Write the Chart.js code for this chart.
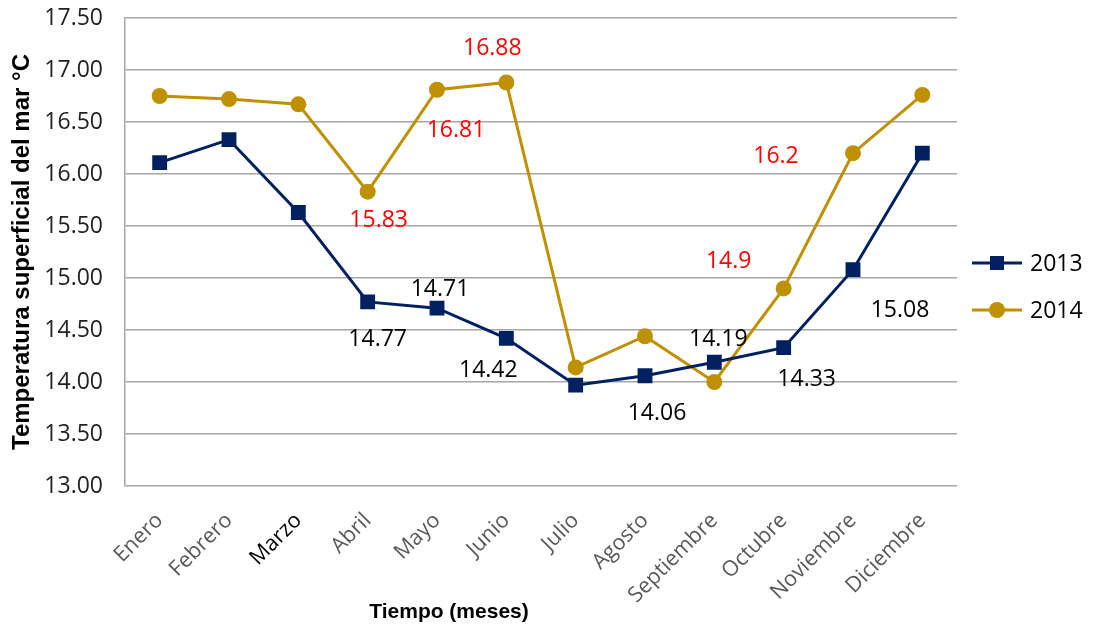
<!DOCTYPE html>
<html>
<head>
<meta charset="utf-8">
<script src="https://cdn.jsdelivr.net/npm/chart.js@4.4.1/dist/chart.umd.min.js"></script>
<style>
    html, body { margin: 0; padding: 0; background: #fff; }
    #wrap { width: 1100px; height: 627px; }
</style>
</head>
<body>
<div id="wrap"><canvas id="tempChart"></canvas></div>
<script>
// datos
const meses = ["Enero", "Febrero", "Marzo", "Abril", "Mayo", "Junio", "Julio", "Agosto", "Septiembre", "Octubre", "Noviembre", "Diciembre"];
const temp2013 = [16.11, 16.33, 15.63, 14.77, 14.71, 14.42, 13.97, 14.06, 14.19, 14.33, 15.08, 16.20];
const temp2014 = [16.75, 16.72, 16.67, 15.83, 16.81, 16.88, 14.14, 14.44, 14.00, 14.9, 16.2, 16.76];
const yMin = 13.0;
const yMax = 17.5;
const yStep = 0.5;

const AZUL = "#002060";
const DORADO = "#BF9000";

// etiquetas de datos visibles (serie, mes, desplazamiento)
const etiquetas = [
    { ds: 0, i: 3, dx: 10, dy: 38, color: "#000" },
    { ds: 0, i: 4, dx: 3, dy: -19, color: "#000" },
    { ds: 0, i: 5, dx: -18, dy: 32, color: "#000" },
    { ds: 0, i: 7, dx: 12, dy: 38, color: "#000" },
    { ds: 0, i: 8, dx: 4, dy: -23, color: "#000" },
    { ds: 0, i: 9, dx: 23, dy: 32, color: "#000" },
    { ds: 0, i: 10, dx: 47, dy: 41, color: "#000" },
    { ds: 1, i: 3, dx: 11, dy: 29, color: "#FF0000" },
    { ds: 1, i: 4, dx: 19, dy: 41, color: "#FF0000" },
    { ds: 1, i: 5, dx: -14, dy: -34, color: "#FF0000" },
    { ds: 1, i: 9, dx: -55, dy: -27, color: "#FF0000" },
    { ds: 1, i: 10, dx: -77, dy: 3, color: "#FF0000" },
];

const labelsPlugin = {
    id: "etiquetas",
    afterDatasetsDraw(chart) {
        const ctx = chart.ctx;
        ctx.save();
        ctx.font = "23px 'Open Sans'";
        ctx.textAlign = "center";
        ctx.textBaseline = "middle";
        etiquetas.forEach(e => {
            const pt = chart.getDatasetMeta(e.ds).data[e.i];
            const v = chart.data.datasets[e.ds].data[e.i];
            ctx.fillStyle = e.color;
            ctx.fillText(String(v), pt.x + e.dx, pt.y + e.dy);
        });
        ctx.restore();
    },
};

const extrasPlugin = {
    id: "extras",
    afterDraw(chart) {
        const ctx = chart.ctx;
        ctx.save();
        // titulo eje x
        ctx.font = "bold 21px 'Liberation Sans'";
        ctx.fillStyle = "#000";
        ctx.textAlign = "center";
        ctx.textBaseline = "middle";
        ctx.fillText("Tiempo (meses)", 449, 612);

        // leyenda
        const items = [
            { text: "2013", color: AZUL, shape: "rect", y: 263 },
            { text: "2014", color: DORADO, shape: "circle", y: 310 },
        ];
        items.forEach(it => {
            ctx.strokeStyle = it.color;
            ctx.lineWidth = 3;
            ctx.beginPath();
            ctx.moveTo(972, it.y);
            ctx.lineTo(1022, it.y);
            ctx.stroke();
            ctx.fillStyle = it.color;
            if (it.shape === "rect") {
                ctx.fillRect(990, it.y - 7, 14, 14);
            } else {
                ctx.beginPath();
                ctx.arc(997, it.y, 8, 0, Math.PI * 2);
                ctx.fill();
            }
            ctx.fillStyle = "#000";
            ctx.font = "23px 'Open Sans'";
            ctx.textAlign = "left";
            ctx.fillText(it.text, 1030, it.y + 1);
        });
        ctx.restore();
    },
};

new Chart(document.getElementById("tempChart").getContext("2d"), {
    type: "line",
    data: {
        labels: meses,
        datasets: [
            {
                label: "2013",
                data: temp2013,
                borderColor: AZUL,
                backgroundColor: AZUL,
                borderWidth: 3,
                pointStyle: "rect",
                pointRadius: 10.5,
                pointHoverRadius: 10.5,
                pointBorderWidth: 0,
                tension: 0,
            },
            {
                label: "2014",
                data: temp2014,
                borderColor: DORADO,
                backgroundColor: DORADO,
                borderWidth: 3,
                pointStyle: "circle",
                pointRadius: 8,
                pointHoverRadius: 8,
                pointBorderWidth: 0,
                tension: 0,
            },
        ],
    },
    options: {
        responsive: true,
        maintainAspectRatio: false,
        animation: false,
        layout: { padding: { top: 18, right: 143, left: 0, bottom: 0 } },
        plugins: {
            legend: { display: false },
            tooltip: { enabled: false },
        },
        scales: {
            y: {
                min: yMin,
                max: yMax,
                ticks: {
                    stepSize: yStep,
                    color: "#222",
                    font: { family: "'Open Sans'", size: 23 },
                    padding: 22,
                    callback: v => Number(v).toFixed(2),
                },
                grid: { color: "#a6a6a6", lineWidth: 1.5, drawTicks: false },
                border: { display: true, color: "#a6a6a6", width: 1.5 },
                title: {
                    display: true,
                    text: "Temperatura superficial del mar °C",
                    color: "#000",
                    font: { family: "'Liberation Sans'", size: 24, weight: "bold" },
                    padding: { top: 8, bottom: 0 },
                },
                afterFit: s => {
                    s.width = 125;
                    s.paddingTop = 0;
                    s.paddingBottom = 0;
                },
            },
            x: {
                offset: true,
                ticks: {
                    autoSkip: false,
                    maxRotation: 45,
                    minRotation: 45,
                    color: ctx => (ctx.index === 2 ? "#000" : "#595959"),
                    font: { family: "'Open Sans'", size: 21.5 },
                    padding: 14,
                },
                grid: { display: false },
                border: { display: false },
                afterFit: s => { s.height = 141; },
            },
        },
    },
    plugins: [labelsPlugin, extrasPlugin],
});
</script>
</body>
</html>
